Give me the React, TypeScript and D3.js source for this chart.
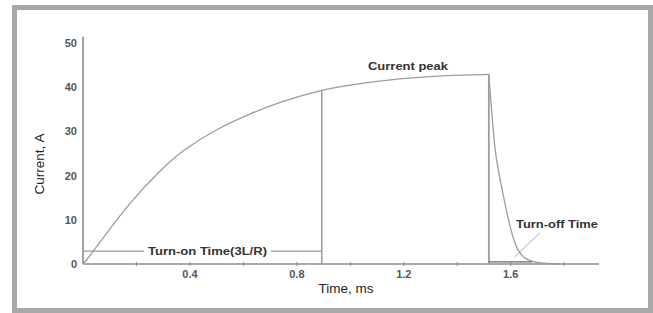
import React from 'react';
import * as d3 from 'd3';

// coil current, rising part (ms, A)
const riseTime = [0, 0.007, 0.026, 0.064, 0.176, 0.288, 0.374, 0.501, 0.624, 0.748, 0.893, 0.998, 1.185, 1.361, 1.518];
const riseCurrent = [0, 0.45, 1.9, 5.0, 14.0, 21.2, 25.8, 30.6, 34.0, 36.9, 39.4, 40.5, 42.0, 42.7, 42.9];

// after switch-off
const decayTime = [1.518, 1.521, 1.529, 1.54, 1.57, 1.596, 1.626, 1.664, 1.708, 1.783];
const decayCurrent = [42.9, 40.0, 34.8, 25.1, 16.1, 8.4, 2.5, 0.7, 0.2, 0];

const yTicks = [0, 10, 20, 30, 40, 50];
const xLabelTicks = [0.4, 0.8, 1.2, 1.6];
const xMinorTicks = [0.2, 0.4, 0.6, 0.8, 1.0, 1.2, 1.4, 1.6, 1.8];

const turnOnEnd = 0.893;
const turnOnPeak = 39.4;
const switchOff = 1.518;
const peakCurrent = 42.9;
const turnOnLevel = 2.9;
const turnOffEnd = 1.68;
const turnOffLevel = 0.5;

const W = 653;
const H = 313;

const App = () => {
  const x = d3.scaleLinear().domain([0, 1.93]).range([83, 599]);
  const y = d3.scaleLinear().domain([0, 50]).range([264, 43]);

  const line = d3.line<[number, number]>()
    .x(d => x(d[0]))
    .y(d => y(d[1]))
    .curve(d3.curveBasis);

  const rise = line(riseTime.map((t, i) => [t, riseCurrent[i]]));
  const decay = line(decayTime.map((t, i) => [t, decayCurrent[i]]));

  const axisColor = '#8c8c8c';
  const curveColor = '#9c9c9c';
  const labelFont = '"Liberation Sans", Arial, sans-serif';

  return (
    <svg width={W} height={H} style={{ position: 'absolute', left: 0, top: 0, background: '#fff' }}>
      {/* frame */}
      <rect x={14.5} y={7.5} width={636} height={303} fill="#fff" stroke="#a9a9a9" strokeWidth={5} />

      {/* axes */}
      <line x1={x(0)} x2={x(0)} y1={y(51.4)} y2={y(0)} stroke={axisColor} strokeWidth={1.6} />
      <line x1={x(0)} x2={x(1.93)} y1={y(0)} y2={y(0)} stroke={axisColor} strokeWidth={1.6} />
      {xMinorTicks.map(t => (
        <line key={t} x1={x(t)} x2={x(t)} y1={y(0) - 2} y2={y(0) + 2} stroke={axisColor} strokeWidth={1} />
      ))}
      {yTicks.map(v => (
        <text key={v} x={77} y={y(v) + 4} textAnchor="end" fontFamily={labelFont}
          fontSize={11} fontWeight="bold" fill="#555">{v}</text>
      ))}
      {xLabelTicks.map(t => (
        <text key={t} x={x(t)} y={278} textAnchor="middle" fontFamily={labelFont}
          fontSize={11} fontWeight="bold" fill="#555">{t}</text>
      ))}

      <text transform={`translate(44,164) rotate(-90)`} textAnchor="middle" fontFamily={labelFont}
        fontSize={13.5} fill="#222">Current, A</text>
      <text x={346} y={293} textAnchor="middle" fontFamily={labelFont} fontSize={13.5} fill="#222">Time, ms</text>

      {/* current curve */}
      <path d={rise ?? ''} fill="none" stroke={curveColor} strokeWidth={1.3} />
      <path d={decay ?? ''} fill="none" stroke={curveColor} strokeWidth={1.3} />
      <line x1={x(turnOnEnd)} x2={x(turnOnEnd)} y1={y(turnOnPeak)} y2={y(0)} stroke={curveColor} strokeWidth={1.5} />
      <line x1={x(switchOff)} x2={x(switchOff)} y1={y(peakCurrent)} y2={y(0)} stroke={curveColor} strokeWidth={1.8} />

      {/* turn-on annotation */}
      <line x1={x(0)} x2={x(turnOnEnd)} y1={y(turnOnLevel)} y2={y(turnOnLevel)} stroke="#999" strokeWidth={1.2} />
      <rect x={144} y={y(turnOnLevel) - 7} width={127} height={13} fill="#fff" />
      <text x={148} y={y(turnOnLevel) + 4} textLength={119} lengthAdjust="spacingAndGlyphs" fontFamily={labelFont}
        fontSize={11.5} fontWeight="bold" fill="#333">Turn-on Time(3L/R)</text>

      {/* current peak */}
      <text x={368} y={70} textLength={80} lengthAdjust="spacingAndGlyphs" fontFamily={labelFont}
        fontSize={11.5} fontWeight="bold" fill="#333">Current peak</text>

      {/* turn-off annotation */}
      <line x1={x(switchOff)} x2={x(turnOffEnd)} y1={y(turnOffLevel)} y2={y(turnOffLevel)} stroke="#666" strokeWidth={1.3} />
      <line x1={x(1.615)} x2={x(1.708)} y1={y(1.6)} y2={y(7.0)} stroke="#aaa" strokeWidth={1} />
      <text x={516} y={228} textLength={82} lengthAdjust="spacingAndGlyphs" fontFamily={labelFont}
        fontSize={11.5} fontWeight="bold" fill="#333">Turn-off Time</text>
    </svg>
  );
};

export default App;
